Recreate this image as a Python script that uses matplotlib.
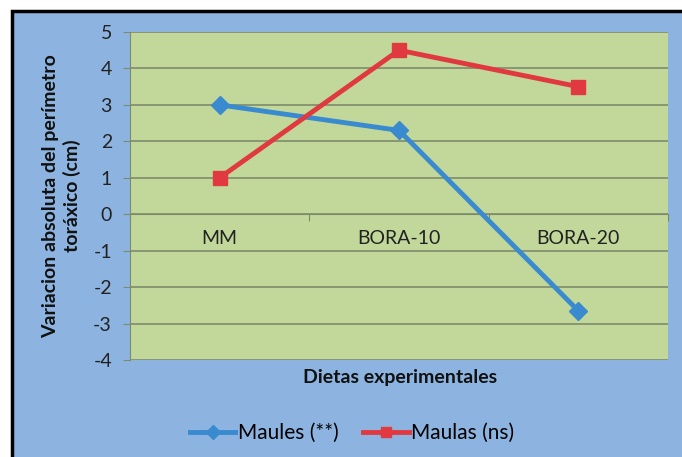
import numpy as np
import matplotlib
matplotlib.use("Agg")
import matplotlib.pyplot as plt
from matplotlib.patches import Rectangle

# data
dietas = ["MM", "BORA-10", "BORA-20"]
maules = [3.0, 2.3, -2.65]
maulas = [1.0, 4.5, 3.5]
yticks = [-4, -3, -2, -1, 0, 1, 2, 3, 4, 5]

plt.rcParams["font.family"] = ["Lato", "DejaVu Sans"]
plt.rcParams["axes.unicode_minus"] = False

fig = plt.figure(figsize=(6.82, 4.57), dpi=100)
fig.patch.set_facecolor("white")

# blue chart area with black border on left/top
fig.patches.append(Rectangle((12 / 682, -0.05), 1.1, 1 - 11 / 457 + 0.05,
                             transform=fig.transFigure, facecolor="#8db4e0",
                             edgecolor="black", linewidth=2.5, zorder=-10))

ax = fig.add_axes([130 / 682, 1 - 360 / 457, 538 / 682, 328 / 457])
ax.set_facecolor("#c2d89a")

x = np.arange(len(dietas))
ax.plot(x, maules, color="#3a8ad0", lw=3.5, marker="D", ms=9,
        label="Maules (**)", zorder=3)
ax.plot(x, maulas, color="#e03a40", lw=3.5, marker="s", ms=10,
        label="Maulas (ns)", zorder=3)

ax.set_xlim(-0.5, len(dietas) - 0.5)
ax.set_ylim(min(yticks), max(yticks))
ax.set_yticks(yticks)
ax.yaxis.grid(True, color="#7e8a6c", lw=1.2)
ax.set_axisbelow(True)
ax.tick_params(axis="y", length=5, color="#7e8a6c", labelsize=14, pad=8,
               labelcolor="#222222")

# category axis crossing at zero
ax.spines["bottom"].set_position(("data", 0))
ax.spines["bottom"].set_color("#7e8a6c")
ax.spines["left"].set_color("#7e8a6c")
ax.spines["top"].set_visible(False)
ax.spines["right"].set_visible(False)
ax.set_xticks(np.arange(len(dietas) + 1) - 0.5)
ax.set_xticklabels([])
ax.tick_params(axis="x", length=5, color="#7e8a6c")
ax.set_xticks(x, minor=True)
ax.set_xticklabels(dietas, minor=True)
ax.tick_params(axis="x", which="minor", length=0, labelsize=14, pad=11,
               labelcolor="#222222")

ax.set_ylabel("Variacion absoluta del perímetro\ntoráxico (cm)",
              fontsize=14, fontweight="bold", color="#111111", labelpad=9)
fig.text(400 / 682, 1 - 378 / 457, "Dietas experimentales", ha="center",
         va="center", fontsize=14, fontweight="bold", color="#111111")

fig.legend(loc="center", bbox_to_anchor=(352 / 682, 1 - 433 / 457), ncol=2,
           frameon=False, fontsize=15, handlelength=2.2, handletextpad=0.1,
           columnspacing=1.2, markerscale=0.75)

fig.savefig("out.png", dpi=100)
